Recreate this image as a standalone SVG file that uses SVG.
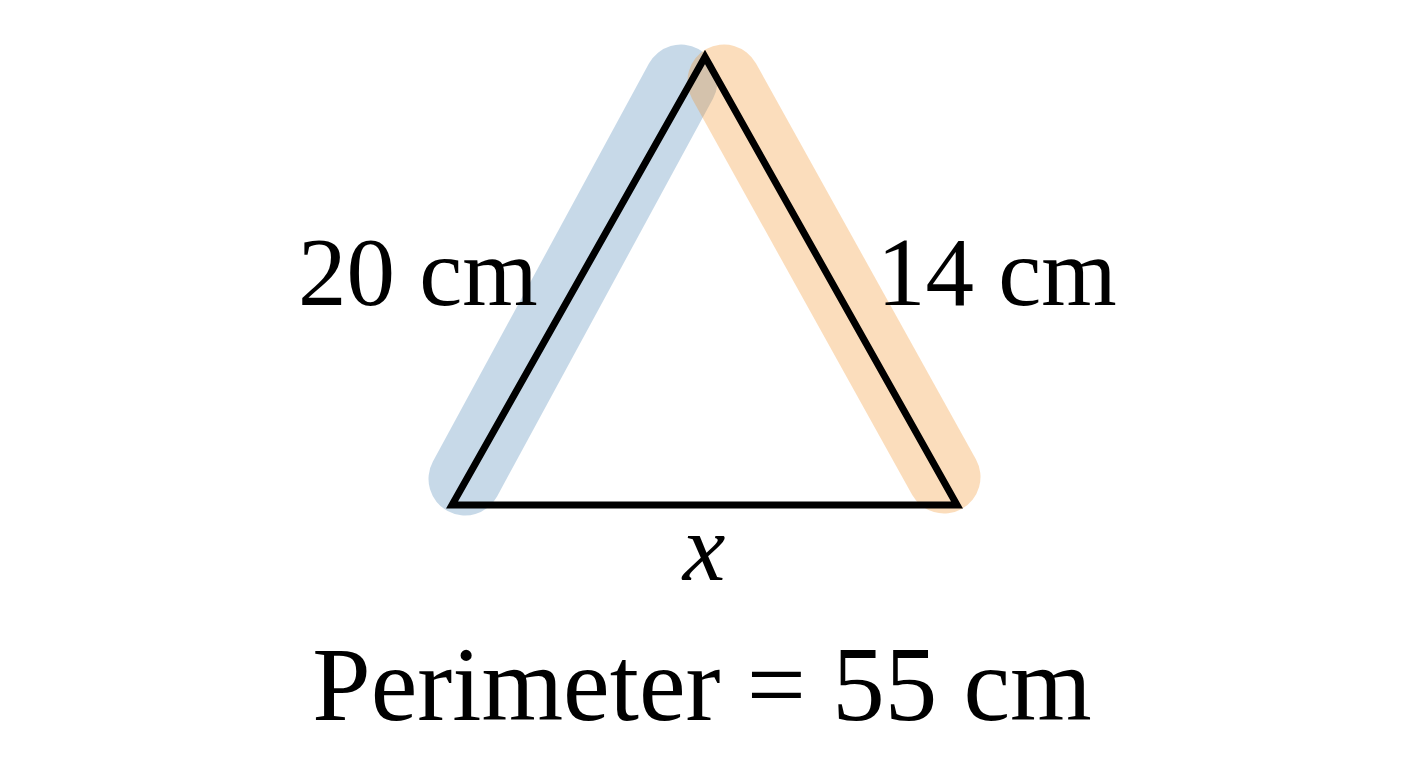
<svg xmlns="http://www.w3.org/2000/svg" width="1408" height="768" viewBox="0 0 1408 768">
  <style>
    .band { fill: none; stroke-width: 73; stroke-linecap: round; }
    .lbl { font-family: "Liberation Serif", "Times New Roman", serif; fill: #000; }
  </style>
  <rect width="1408" height="768" fill="#ffffff"/>
  <g id="highlights">
    <line class="band" x1="681" y1="81" x2="465" y2="479" stroke="#4682b4" stroke-opacity="0.3"/>
    <line class="band" x1="724" y1="81" x2="944" y2="477" stroke="#f39020" stroke-opacity="0.3"/>
  </g>
  <g id="triangle">
    <polygon points="705,57 452,505 957,505" fill="none" stroke="#000" stroke-width="7" stroke-linejoin="miter"/>
  </g>
  <g id="labels">
    <text class="lbl" x="298" y="305" font-size="97">20 cm</text>
    <text class="lbl" x="877" y="305" font-size="97">14 cm</text>
    <text class="lbl" x="704" y="580" font-size="96" font-style="italic" text-anchor="middle">x</text>
    <text class="lbl" x="702" y="720" font-size="105" text-anchor="middle">Perimeter = 55 cm</text>
  </g>
</svg>
